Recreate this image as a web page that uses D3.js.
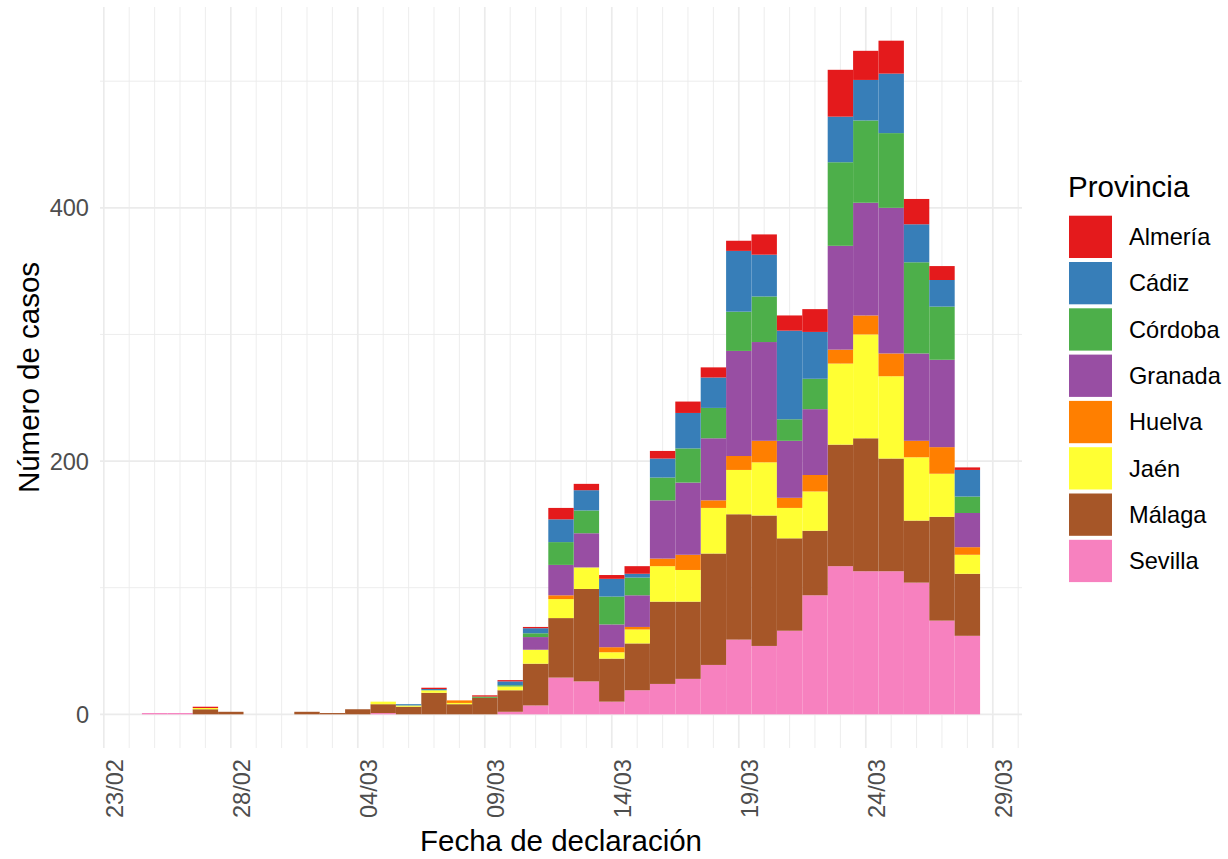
<!DOCTYPE html>
<html>
<head>
<meta charset="utf-8">
<script src="https://cdn.jsdelivr.net/npm/d3@7"></script>
<style>
  body { margin: 0; background: #fff; }
  svg text { font-family: "Liberation Sans", Arial, sans-serif; }
</style>
</head>
<body>
<svg id="chart" width="1228" height="859"></svg>
<script>
// fechas de declaracion (una barra por dia)
const fechas = ["2020-02-25","2020-02-26","2020-02-27","2020-02-28","2020-02-29","2020-03-01","2020-03-02",
  "2020-03-03","2020-03-04","2020-03-05","2020-03-06","2020-03-07","2020-03-08","2020-03-09","2020-03-10",
  "2020-03-11","2020-03-12","2020-03-13","2020-03-14","2020-03-15","2020-03-16","2020-03-17","2020-03-18",
  "2020-03-19","2020-03-20","2020-03-21","2020-03-22","2020-03-23","2020-03-24","2020-03-25","2020-03-26",
  "2020-03-27","2020-03-28"];

const provincias = ["Almería","Cádiz","Córdoba","Granada","Huelva","Jaén","Málaga","Sevilla"];
const colores = ["#E41A1C","#377EB8","#4DAF4A","#984EA3","#FF7F00","#FFFF33","#A65628","#F781BF"];

// casos por provincia y dia
const almeria = [0,0,1,0,0,0,0,0,0,0,0,1,0,1,1,1,9,5,3,6,6,9,8,8,16,12,18,37,23,26,20,11,2];
const cadiz   = [0,0,0,0,0,0,0,0,0,0,1,1,0,0,3,4,18,16,14,3,15,28,24,48,33,70,37,36,32,47,30,21,21];
const cordoba = [0,0,0,0,0,0,0,0,0,0,0,0,0,1,1,3,18,18,22,14,18,27,24,31,36,17,24,66,65,59,72,42,13];
const granada = [0,0,0,0,0,0,0,0,0,0,0,0,0,0,0,10,24,27,18,25,46,57,49,83,78,45,52,82,89,115,69,69,27];
const huelva  = [0,0,0,0,0,0,0,0,0,0,0,0,2,0,0,0,3,0,4,2,6,12,6,11,17,8,13,11,15,18,13,21,6];
const jaen    = [0,0,1,0,0,0,0,0,0,2,1,2,1,0,3,11,15,17,5,11,28,25,36,35,42,24,31,64,82,65,50,34,15];
const malaga  = [0,0,4,2,0,0,2,1,4,7,6,17,8,13,17,33,47,73,34,37,65,61,88,99,103,73,51,96,105,89,49,82,49];
const sevilla = [1,1,0,0,0,0,0,0,0,1,0,0,0,0,2,7,29,26,10,19,24,28,39,59,54,66,94,117,113,113,104,74,62];

const ticksX = ["2020-02-23","2020-02-28","2020-03-04","2020-03-09","2020-03-14","2020-03-19","2020-03-24","2020-03-29"];
const ticksY = [0, 200, 400];
const menoresY = [100, 300, 500];

const series = {"Almería": almeria, "Cádiz": cadiz, "Córdoba": cordoba, "Granada": granada,
  "Huelva": huelva, "Jaén": jaen, "Málaga": malaga, "Sevilla": sevilla};

const parse = d3.utcParse("%Y-%m-%d");
const rows = fechas.map(function(f, i) {
  const r = {fecha: parse(f)};
  provincias.forEach(function(p) { r[p] = series[p][i]; });
  return r;
});

const svg = d3.select("#chart");
const pLeft = 100, pRight = 1022, pTop = 7, pBottom = 748;
const DAY = 864e5;

// dominio como ggplot: barras de un dia de ancho + 5% de margen
const x0 = +rows[0].fecha - DAY / 2;
const x1 = +rows[rows.length - 1].fecha + DAY / 2;
const pad = (x1 - x0) * 0.05;
const x = d3.scaleUtc().domain([new Date(x0 - pad), new Date(x1 + pad)]).range([pLeft, pRight]);

const stack = d3.stack().keys(provincias.slice().reverse());
const stacked = stack(rows);
const maxY = d3.max(rows, function(r) { return d3.sum(provincias, function(p) { return r[p]; }); });
const y = d3.scaleLinear().domain([-0.05 * maxY, 1.05 * maxY]).range([pBottom, pTop]);

const color = d3.scaleOrdinal().domain(provincias).range(colores);

// rejilla
const grid = svg.append("g").attr("stroke", "#EBEBEB").attr("fill", "none");
const majors = ticksX.map(function(t) { return +parse(t); });
const dias = d3.utcDay.range(x.domain()[0], x.domain()[1]);
grid.selectAll(".vmin").data(dias.filter(function(d) { return majors.indexOf(+d) < 0; }))
  .enter().append("line")
  .attr("x1", function(d) { return x(d); }).attr("x2", function(d) { return x(d); })
  .attr("y1", pTop).attr("y2", pBottom).attr("stroke-width", 0.9);
grid.selectAll(".hmin").data(menoresY).enter().append("line")
  .attr("x1", pLeft).attr("x2", pRight)
  .attr("y1", function(d) { return y(d); }).attr("y2", function(d) { return y(d); })
  .attr("stroke-width", 0.9);
grid.selectAll(".vmaj").data(ticksX).enter().append("line")
  .attr("x1", function(d) { return x(parse(d)); }).attr("x2", function(d) { return x(parse(d)); })
  .attr("y1", pTop).attr("y2", pBottom).attr("stroke-width", 1.7);
grid.selectAll(".hmaj").data(ticksY).enter().append("line")
  .attr("x1", pLeft).attr("x2", pRight)
  .attr("y1", function(d) { return y(d); }).attr("y2", function(d) { return y(d); })
  .attr("stroke-width", 1.7);

// barras apiladas
svg.append("g").selectAll("g").data(stacked).enter().append("g")
  .attr("fill", function(s) { return color(s.key); })
  .selectAll("rect").data(function(s) { return s; }).enter().append("rect")
  .attr("x", function(d) { return x(new Date(+d.data.fecha - DAY / 2)); })
  .attr("width", function(d) { return x(new Date(+d.data.fecha + DAY / 2)) - x(new Date(+d.data.fecha - DAY / 2)); })
  .attr("y", function(d) { return y(d[1]); })
  .attr("height", function(d) { return y(d[0]) - y(d[1]); });

// ejes
const fmt = d3.utcFormat("%d/%m");
svg.append("g").selectAll("text").data(ticksX).enter().append("text")
  .attr("transform", function(d) { return "translate(" + (x(parse(d)) + 19.5) + "," + 759 + ") rotate(-90)"; })
  .attr("text-anchor", "end")
  .attr("font-size", 23.6).attr("fill", "#4D4D4D")
  .text(function(d) { return fmt(parse(d)); });

svg.append("g").selectAll("text").data(ticksY).enter().append("text")
  .attr("x", 89).attr("y", function(d) { return y(d); }).attr("dy", "0.36em")
  .attr("text-anchor", "end")
  .attr("font-size", 23.6).attr("fill", "#4D4D4D")
  .text(function(d) { return d; });

svg.append("text")
  .attr("x", (pLeft + pRight) / 2).attr("y", 851)
  .attr("text-anchor", "middle").attr("font-size", 29.5).attr("fill", "#000")
  .text("Fecha de declaración");

svg.append("text")
  .attr("transform", "translate(39," + ((pTop + pBottom) / 2) + ") rotate(-90)")
  .attr("text-anchor", "middle").attr("font-size", 29.5).attr("fill", "#000")
  .text("Número de casos");

// leyenda
const leg = svg.append("g");
leg.append("text").attr("x", 1068).attr("y", 197)
  .attr("font-size", 29.5).attr("fill", "#000").text("Provincia");
const item = leg.selectAll(".item").data(provincias).enter().append("g")
  .attr("transform", function(d, i) { return "translate(1069," + (215.7 + i * 46.3) + ")"; });
item.append("rect").attr("width", 43).attr("height", 42.3)
  .attr("fill", function(d) { return color(d); });
item.append("text").attr("x", 60).attr("y", 21).attr("dy", "0.36em")
  .attr("font-size", 23.6).attr("fill", "#000").text(function(d) { return d; });
</script>
</body>
</html>
